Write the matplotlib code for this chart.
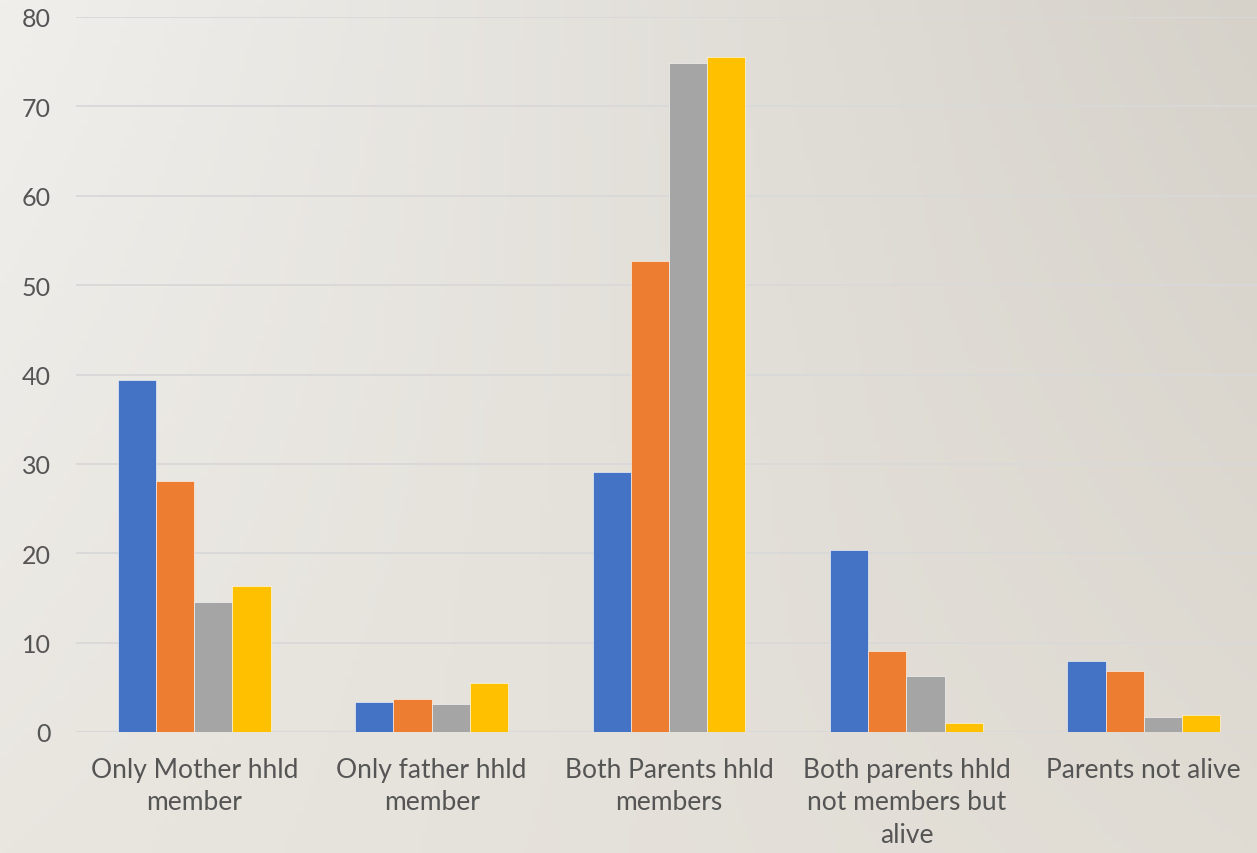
import numpy as np
import matplotlib.pyplot as plt
from matplotlib.colors import to_rgb

# categories and values
categories = ['Only Mother hhld\nmember', 'Only father hhld\nmember',
              'Both Parents hhld\nmembers', 'Both parents hhld\nnot members but\nalive',
              'Parents not alive']
series_1 = [39.4, 3.4, 29.1, 20.4, 8.0]
series_2 = [28.1, 3.7, 52.7, 9.1, 6.8]
series_3 = [14.5, 3.1, 74.8, 6.3, 1.7]
series_4 = [16.3, 5.5, 75.5, 1.0, 1.9]
colors = ['#4472c4', '#ed7d31', '#a5a5a5', '#ffc000']
yticks = [0, 10, 20, 30, 40, 50, 60, 70, 80]

plt.rcParams['font.family'] = ['Lato', 'DejaVu Sans']

fig = plt.figure(figsize=(12.57, 8.54), dpi=100)

# background gradient (lighter top-left, darker top-right)
bg = fig.add_axes([0, 0, 1, 1], zorder=-10)
tl, tr = np.array(to_rgb('#f0efec')), np.array(to_rgb('#d6d2ca'))
bl, br = np.array(to_rgb('#e9e6e0')), np.array(to_rgb('#e0dcd4'))
u = np.linspace(0, 1, 200)[None, :, None]
v = np.linspace(0, 1, 150)[:, None, None]
img = (1 - v) * ((1 - u) * tl + u * tr) + v * ((1 - u) * bl + u * br)
bg.imshow(img, aspect='auto', extent=[0, 1, 0, 1], origin='upper')
bg.axis('off')

ax = fig.add_axes([75.5 / 1257, 1 - 733 / 854, 1187 / 1257, (733 - 18) / 854])
ax.patch.set_alpha(0)

x = np.arange(len(categories))
w = 0.161
for i, (vals, c) in enumerate(zip([series_1, series_2, series_3, series_4], colors)):
    ax.bar(x + (i - 1.5) * w, vals, width=w, color=c, zorder=3,
           edgecolor='white', linewidth=0.4)

ax.set_xlim(-0.5, len(categories) - 0.5)
ax.set_ylim(0, 80)
ax.set_yticks(yticks)
ax.grid(axis='y', color='#d9d9d9', linewidth=1.4, zorder=0)
ax.axhline(0, color='#d9d9d9', linewidth=1.6, zorder=2)
for s in ax.spines.values():
    s.set_visible(False)
ax.tick_params(length=0, labelcolor='#555555')
ax.tick_params(axis='y', pad=18, labelsize=18)
ax.tick_params(axis='x', pad=18, labelsize=19)
ax.set_xticks(x)
ax.set_xticklabels(categories, linespacing=1.37)

plt.savefig('out.png', dpi=100)
